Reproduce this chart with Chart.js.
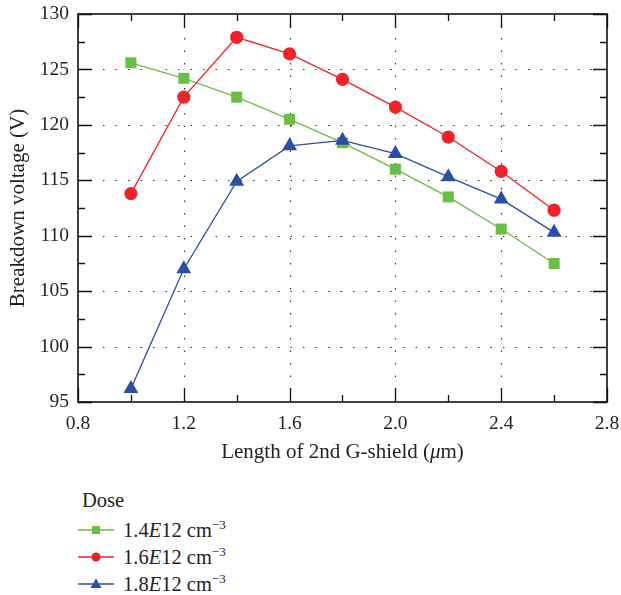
<!DOCTYPE html>
<html>
<head>
<meta charset="utf-8">
<script src="https://cdn.jsdelivr.net/npm/chart.js@4.4.1/dist/chart.umd.min.js"></script>
<style>
  body { margin: 0; background: #fff; font-family: "Liberation Serif", "DejaVu Serif", serif; color: #222; }
  #wrap { position: relative; width: 621px; height: 470px; }
  #legend { position: absolute; left: 78px; top: 487px; font-size: 20.5px; }
  #legend .ttl { margin-left: 4px; height: 29px; line-height: 27px; }
  #legend .row { display: flex; align-items: center; height: 27px; }
  #legend svg { margin-right: 9px; }
  #legend sup { font-size: 13px; vertical-align: 8px; }
</style>
</head>
<body>
<div id="wrap"><canvas id="chart"></canvas></div>
<div id="legend"></div>
<script>
const lengths = [1.0, 1.2, 1.4, 1.6, 1.8, 2.0, 2.2, 2.4, 2.6];
const dose14 = [125.6, 124.2, 122.5, 120.5, 118.4, 116.0, 113.5, 110.6, 107.5];
const dose16 = [113.8, 122.5, 127.9, 126.4, 124.1, 121.6, 118.9, 115.8, 112.3];
const dose18 = [96.2, 107.0, 114.9, 118.1, 118.6, 117.4, 115.3, 113.3, 110.3];
const doseLabels = ["1.4", "1.6", "1.8"];

const green = "#6abd45";
const red = "#ee2229";
const blue = "#2c4fa3";
const fontFam = "Liberation Serif";

function pts(ys) {
  return lengths.map((x, i) => ({ x: x, y: ys[i] }));
}

// frame, dotted grid, inward ticks, axis titles
const framePlugin = {
  id: "frame",
  beforeDatasetsDraw(chart) {
    const ctx = chart.ctx;
    const a = chart.chartArea;
    const xs = chart.scales.x, ys = chart.scales.y;
    ctx.save();
    // dotted grid at labelled ticks
    ctx.strokeStyle = "#333";
    ctx.lineWidth = 1.2;
    ctx.setLineDash([1.5, 11]);
    xs.ticks.forEach(t => {
      if (t.value <= xs.min + 1e-6 || t.value >= xs.max - 1e-6) return;
      const px = Math.round(xs.getPixelForValue(t.value)) + 0.5;
      ctx.beginPath(); ctx.moveTo(px, a.bottom); ctx.lineTo(px, a.top); ctx.stroke();
    });
    ys.ticks.forEach(t => {
      if (t.value <= ys.min + 1e-6 || t.value >= ys.max - 1e-6) return;
      const py = Math.round(ys.getPixelForValue(t.value)) + 0.5;
      ctx.beginPath(); ctx.moveTo(a.left, py); ctx.lineTo(a.right, py); ctx.stroke();
    });
    ctx.setLineDash([]);
    // inward ticks: major on labels, minor halfway
    ctx.strokeStyle = "#111";
    ctx.lineWidth = 1.3;
    const xStep = 0.2;
    for (let v = xs.min, k = 0; v <= xs.max + 1e-6; v += xStep, k++) {
      const px = Math.round(xs.getPixelForValue(v)) + 0.5;
      const len = k % 2 === 0 ? 14 : 7;
      ctx.beginPath();
      ctx.moveTo(px, a.bottom); ctx.lineTo(px, a.bottom - len);
      ctx.moveTo(px, a.top); ctx.lineTo(px, a.top + len);
      ctx.stroke();
    }
    const yStep = 2.5;
    for (let v = ys.min, k = 0; v <= ys.max + 1e-6; v += yStep, k++) {
      const py = Math.round(ys.getPixelForValue(v)) + 0.5;
      const len = k % 2 === 0 ? 14 : 7;
      ctx.beginPath();
      ctx.moveTo(a.left, py); ctx.lineTo(a.left + len, py);
      ctx.moveTo(a.right, py); ctx.lineTo(a.right - len, py);
      ctx.stroke();
    }
    // box
    ctx.lineWidth = 1.6;
    ctx.strokeRect(a.left, a.top, a.right - a.left, a.bottom - a.top);
    ctx.restore();
  },
  afterDraw(chart) {
    const ctx = chart.ctx;
    const a = chart.chartArea;
    ctx.save();
    ctx.fillStyle = "#222";
    ctx.textBaseline = "middle";
    // x title with italic mu
    const f = "21px '" + fontFam + "'";
    const parts = [
      ["Length of 2nd G-shield (", f],
      ["\u03bc", "italic " + f],
      ["m)", f]
    ];
    let total = 0;
    parts.forEach(p => { ctx.font = p[1]; total += ctx.measureText(p[0]).width; });
    let x = (a.left + a.right) / 2 - total / 2;
    ctx.textAlign = "left";
    parts.forEach(p => {
      ctx.font = p[1];
      ctx.fillText(p[0], x, 452);
      x += ctx.measureText(p[0]).width;
    });
    // y title
    ctx.translate(18, (a.top + a.bottom) / 2);
    ctx.rotate(-Math.PI / 2);
    ctx.textAlign = "center";
    ctx.font = f;
    ctx.fillText("Breakdown voltage (V)", 0, 0);
    ctx.restore();
  }
};

const ctx = document.getElementById("chart").getContext("2d");
new Chart(ctx, {
  type: "line",
  data: {
    datasets: [
      { label: "1.4E12", data: pts(dose14), borderColor: green, backgroundColor: green,
        pointStyle: "rect", pointRadius: 7.8, borderWidth: 1.3, pointBorderWidth: 0, order: 3 },
      { label: "1.6E12", data: pts(dose16), borderColor: red, backgroundColor: red,
        pointStyle: "circle", pointRadius: 6.6, borderWidth: 1.3, pointBorderWidth: 0, order: 2 },
      { label: "1.8E12", data: pts(dose18), borderColor: blue, backgroundColor: blue,
        pointStyle: "triangle", pointRadius: 8.6, borderWidth: 1.3, pointBorderWidth: 0, order: 1 }
    ]
  },
  options: {
    responsive: true,
    maintainAspectRatio: false,
    animation: false,
    clip: false,
    layout: { padding: { top: 14, right: 14, left: 0, bottom: 0 } },
    plugins: { legend: { display: false }, tooltip: { enabled: false } },
    scales: {
      x: {
        type: "linear", min: 0.8, max: 2.8,
        grid: { display: false, drawTicks: false },
        border: { display: false },
        ticks: { stepSize: 0.4, padding: 10, maxRotation: 0, color: "#222",
          font: { family: fontFam, size: 19.5 },
          callback: v => Number(v).toFixed(1) },
        afterFit: s => { s.height = 68; s.paddingLeft = 0; s.paddingRight = 0; }
      },
      y: {
        min: 95, max: 130,
        grid: { display: false, drawTicks: false },
        border: { display: false },
        ticks: { stepSize: 5, padding: 9, color: "#222",
          font: { family: fontFam, size: 19.5 } },
        afterFit: s => { s.width = 78; s.paddingTop = 0; s.paddingBottom = 0; }
      }
    }
  },
  plugins: [framePlugin]
});

// legend below the chart
const legend = document.getElementById("legend");
const marks = [
  [green, '<rect x="14" y="2" width="8" height="8"/>'],
  [red, '<circle cx="18" cy="6" r="4.6"/>'],
  [blue, '<polygon points="18,0.5 23.5,10 12.5,10"/>']
];
let html = '<div class="ttl">Dose</div>';
doseLabels.forEach((d, i) => {
  const c = marks[i][0];
  html += '<div class="row"><svg width="36" height="12"><line x1="0" y1="6" x2="36" y2="6" stroke="' + c +
    '" stroke-width="1.5"/><g fill="' + c + '">' + marks[i][1] + '</g></svg>' +
    '<span>' + d + '<i>E</i>12 cm<sup>\u22123</sup></span></div>';
});
legend.innerHTML = html;
</script>
</body>
</html>
